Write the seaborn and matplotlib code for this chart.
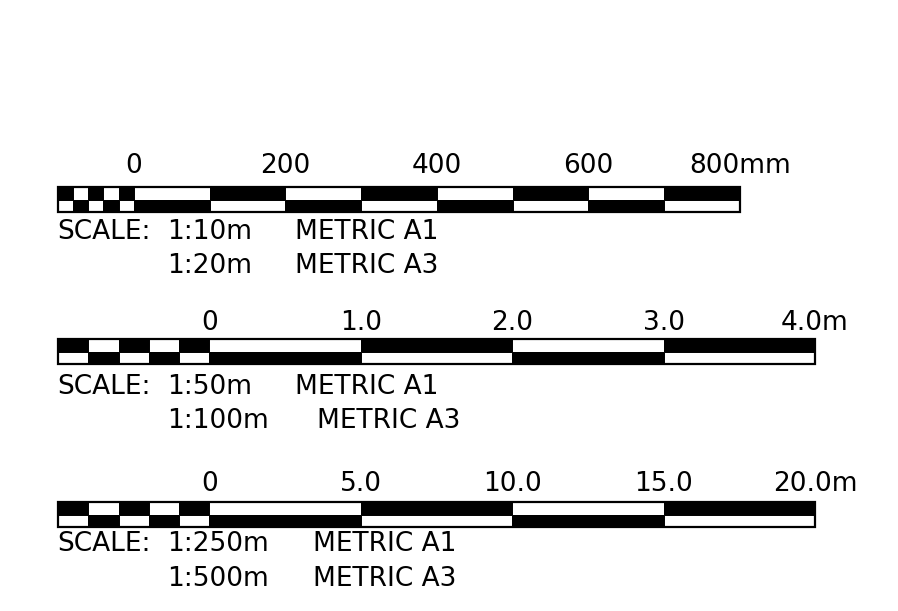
import numpy as np
import matplotlib
matplotlib.use("Agg")
import matplotlib.pyplot as plt
import seaborn as sns

# scale bar 1 (mm)
bar1_small = [-100, -80, -60, -40, -20, 0]
bar1_big = [0, 100, 200, 300, 400, 500, 600, 700, 800]
bar1_ticks = [0, 200, 400, 600, 800]
bar1_labels = ["0", "200", "400", "600", "800mm"]
bar1_text = [("1:10m", "METRIC A1"), ("1:20m", "METRIC A3")]

# scale bar 2 (m)
bar2_small = [-1.0, -0.8, -0.6, -0.4, -0.2, 0.0]
bar2_big = [0.0, 1.0, 2.0, 3.0, 4.0]
bar2_ticks = [0.0, 1.0, 2.0, 3.0, 4.0]
bar2_labels = ["0", "1.0", "2.0", "3.0", "4.0m"]
bar2_text = [("1:50m", "METRIC A1"), ("1:100m", "METRIC A3")]

# scale bar 3 (m)
bar3_small = [-5.0, -4.0, -3.0, -2.0, -1.0, 0.0]
bar3_big = [0.0, 5.0, 10.0, 15.0, 20.0]
bar3_ticks = [0.0, 5.0, 10.0, 15.0, 20.0]
bar3_labels = ["0", "5.0", "10.0", "15.0", "20.0m"]
bar3_text = [("1:250m", "METRIC A1"), ("1:500m", "METRIC A3")]

sns.set_theme(style="white")
plt.rcParams["font.family"] = ["DejaVu Sans"]

W, H = 898, 611
LEFT, RIGHT = 58, 815
FS = 19

fig = plt.figure(figsize=(W / 100, H / 100), dpi=100)
fig.patch.set_facecolor("white")

# pixel-space axes for the captions
tax = fig.add_axes([0, 0, 1, 1])
tax.set_xlim(0, W)
tax.set_ylim(H, 0)
tax.axis("off")


def draw_bar(small, big, ticks, labels, right_px, top_px, label_y):
    ax = fig.add_axes([0, 0, 1, 1])
    ax.patch.set_alpha(0)
    u0, u1 = small[0], big[-1]
    k = (right_px - LEFT) / (u1 - u0)
    ax.set_xlim(u0 - LEFT / k, u0 + (W - LEFT) / k)
    ax.set_ylim(H, 0)
    ax.axis("off")

    edges = np.array(small[:-1] + big)
    lefts, widths = edges[:-1], np.diff(edges)
    n_small = len(small) - 1
    top_cols = ["black" if i % 2 == 0 else "white" for i in range(n_small)]
    top_cols += ["white" if i % 2 == 0 else "black" for i in range(len(big) - 1)]
    bot_cols = ["white" if c == "black" else "black" for c in top_cols]

    rh = 12.5
    ax.barh(top_px + rh / 2, widths, left=lefts, height=rh, color=top_cols,
            edgecolor="black", linewidth=0.7)
    ax.barh(top_px + rh * 1.5, widths, left=lefts, height=rh, color=bot_cols,
            edgecolor="black", linewidth=0.7)
    ax.barh(top_px + rh, u1 - u0, left=u0, height=rh * 2, color="none",
            edgecolor="black", linewidth=1.6)

    for t, lab in zip(ticks, labels):
        ax.text(t, label_y, lab, ha="center", va="center", fontsize=FS, color="black")
    return ax


def captions(rows, ys, mxs):
    tax.text(LEFT - 1, ys[0], "SCALE:", ha="left", va="center", fontsize=FS, color="black")
    for (ratio, metric), y, mx in zip(rows, ys, mxs):
        tax.text(167, y, ratio, ha="left", va="center", fontsize=FS, color="black")
        tax.text(mx, y, metric, ha="left", va="center", fontsize=FS, color="black")


draw_bar(bar1_small, bar1_big, bar1_ticks, bar1_labels, 740, 187, 166)
captions(bar1_text, [232, 266], [295, 295])

draw_bar(bar2_small, bar2_big, bar2_ticks, bar2_labels, RIGHT, 339, 323)
captions(bar2_text, [387, 421], [295, 317])

draw_bar(bar3_small, bar3_big, bar3_ticks, bar3_labels, RIGHT, 502, 484)
captions(bar3_text, [544, 579], [313, 313])

fig.savefig("out.png", dpi=100)
